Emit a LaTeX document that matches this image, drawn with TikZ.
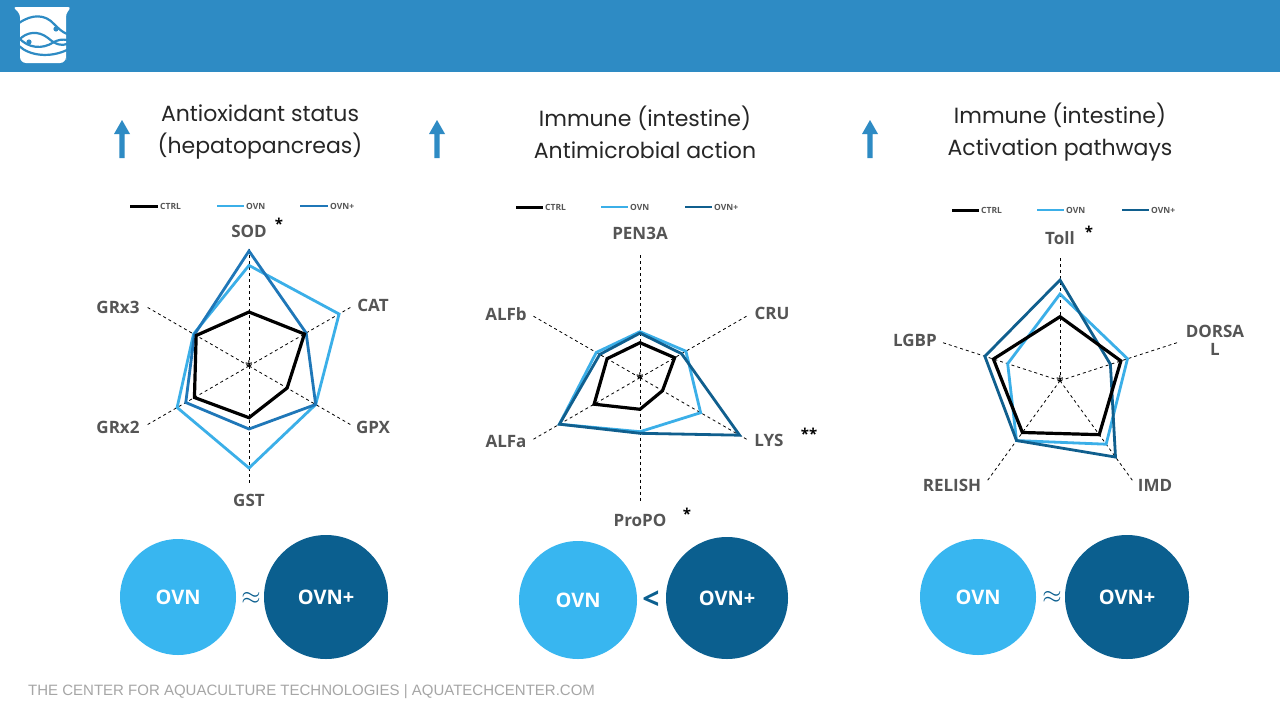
\documentclass[tikz,border=0pt]{standalone}
\usepackage{fontspec}
\setmainfont{Open Sans}
\newfontfamily\titlefont{Poppins}
\newfontfamily\footfont{Liberation Sans}
\definecolor{hdr}{HTML}{2E8BC4}
\definecolor{ovn}{HTML}{3BAFE8}
\definecolor{ovnpA}{HTML}{1F77B8}
\definecolor{ovnpB}{HTML}{105F8E}
\definecolor{circL}{HTML}{38B6F0}
\definecolor{circD}{HTML}{0B5F8F}
\definecolor{lbl}{HTML}{555555}
\tikzset{
  axis/.style={dashed,line width=0.8pt,black},
  ctrl/.style={line width=3.2pt,black,line join=miter},
  ovnl/.style={line width=2.8pt,ovn,line join=miter},
  ovnpa/.style={line width=2.8pt,ovnpA,line join=miter},
  ovnpb/.style={line width=2.8pt,ovnpB,line join=miter},
  lab/.style={font=\bfseries\fontsize{17}{18}\selectfont,text=lbl,inner sep=0pt},
  star/.style={font=\bfseries\fontsize{15}{15}\selectfont,text=black,inner sep=0pt},
  leg/.style={font=\bfseries\fontsize{8.5}{9}\selectfont,text=lbl,anchor=west,inner sep=0pt},
  ttl/.style={font=\titlefont\fontsize{22}{32}\selectfont,text=black!85,align=center,inner sep=0pt},
  ctxt/.style={font=\bfseries\fontsize{20}{20}\selectfont,text=white,inner sep=0pt},
  rel/.style={font=\bfseries\fontsize{30}{30}\selectfont,text=circD,inner sep=0pt},
}
\newcommand{\uparr}[2]{\fill[hdr] (#1-2.6,#2) -- (#1-2.6,#2-24) -- (#1-8,#2-24) -- (#1,#2-38) -- (#1+8,#2-24) -- (#1+2.6,#2-24) -- (#1+2.6,#2) -- cycle;}
\newcommand{\legend}[4]{% y, x ctrl, x ovn, x ovn+ ; #4 colour-style
}
\begin{document}
\begin{tikzpicture}[x=1pt,y=-1pt]
\useasboundingbox (0,0) rectangle (1280,720);
\fill[white] (0,0) rectangle (1280,720);
% header
\fill[hdr] (0,0) rectangle (1280,72);
% logo
\fill[white,rounded corners=3pt] (13,7) -- (71,7) -- (66,14) -- (66,57) [rounded corners=6pt]-- (66,63) -- (20,63) [rounded corners=3pt]-- (20,14) -- cycle;
\draw[hdr,line width=2.2pt] (19,23) .. controls (32,14) and (45,14) .. (54,24) .. controls (58,28) and (62,32) .. (67,34);
\draw[hdr,line width=2.2pt] (19,40) .. controls (26,32) and (38,30) .. (48,38) .. controls (56,45) and (62,46) .. (67,44);
\draw[hdr,line width=2.2pt] (19,38) .. controls (28,48) and (42,50) .. (54,42) .. controls (58,40) and (62,39) .. (67,40);
\draw[hdr,line width=2.2pt] (19,46) .. controls (30,56) and (50,58) .. (67,50);
\fill[hdr] (56,29) circle (2.6) (29,42) circle (2.6);
% titles
\uparr{122}{158}
\node[ttl] (t1) at (260,132) {Antioxidant status\\(hepatopancreas)};
\uparr{437}{158}
\node[ttl] (t2) at (645,132) {Immune (intestine)\\Antimicrobial action};
\uparr{870}{158}
\node[ttl] (t3) at (1060,132) {Immune (intestine)\\Activation pathways};

% ===== chart 1 =====
\draw[ctrl,line width=3pt] (130,206) -- (158,206); \node[leg] (l1a) at (160,206) {CTRL};
\draw[ovnl] (217,206) -- (244,206); \node[leg] (l1b) at (246,206) {OVN};
\draw[ovnpa] (300,206) -- (328,206); \node[leg] (l1c) at (330,206) {OVN+};
\begin{scope}[shift={(249,366)}]
\foreach \a in {-90,-30,30,90,150,210} \draw[axis] (0,0) -- (\a:117);
\draw[ovnl] (-90:100.6) -- (-30:104) -- (30:77) -- (90:102) -- (150:83) -- (210:64) -- cycle;
\draw[ovnpa] (-90:115) -- (-30:66) -- (30:77) -- (90:63) -- (150:73) -- (210:63) -- cycle;
\draw[ctrl] (-90:54) -- (-30:64) -- (30:44) -- (90:51.7) -- (150:63) -- (210:61) -- cycle;
\node[font=\fontsize{14}{14}\selectfont,inner sep=0pt] (c1) at (0,0) {*};
\end{scope}
\node[lab] (sod) at (249,231) {SOD};
\node[star] (sods) at (279,224) {*};
\node[lab] (cat) at (373,305) {CAT};
\node[lab] (gpx) at (373,427) {GPX};
\node[lab] (gst) at (249,500) {GST};
\node[lab] (grx2) at (118,427) {GRx2};
\node[lab] (grx3) at (118,307) {GRx3};

% ===== chart 2 =====
\draw[ctrl,line width=3pt] (516,207) -- (543,207); \node[leg] (l2a) at (545,207) {CTRL};
\draw[ovnl] (601,207) -- (628,207); \node[leg] (l2b) at (630,207) {OVN};
\draw[ovnpb] (685,207) -- (712,207); \node[leg] (l2c) at (714,207) {OVN+};
\begin{scope}[shift={(640,377.7)}]
\foreach \a in {-90,-30,30,90,150,210} \draw[axis] (0,0) -- (\a:124);
\draw[ovnl] (-90:46) -- (-30:53) -- (30:70) -- (90:54) -- (150:93) -- (210:50.5) -- cycle;
\draw[ovnpb] (-90:44.6) -- (-30:48) -- (30:115) -- (90:55.6) -- (150:93) -- (210:46.5) -- cycle;
\draw[ctrl] (-90:35) -- (-30:40) -- (30:26) -- (90:31.6) -- (150:53) -- (210:38) -- cycle;
\node[font=\fontsize{14}{14}\selectfont,inner sep=0pt] (c2) at (0,0) {*};
\end{scope}
\node[lab] (pen) at (640,233) {PEN3A};
\node[lab] (cru) at (772,313) {CRU};
\node[lab] (lys) at (769,440) {LYS};
\node[star] (lyss) at (809,434) {**};
\node[lab] (pro) at (640,520) {ProPO};
\node[star] (pros) at (687,514) {*};
\node[lab] (alfa) at (506,441) {ALFa};
\node[lab] (alfb) at (506,314) {ALFb};

% ===== chart 3 =====
\draw[ctrl,line width=3pt] (952,210) -- (979,210); \node[leg] (l3a) at (981,210) {CTRL};
\draw[ovnl] (1037,210) -- (1064,210); \node[leg] (l3b) at (1066,210) {OVN};
\draw[ovnpb] (1122,210) -- (1149,210); \node[leg] (l3c) at (1151,210) {OVN+};
\begin{scope}[shift={(1060,380.7)}]
\foreach \a in {-90,-18,54,126,198} \draw[axis] (0,0) -- (\a:123);
\draw[ovnl] (-90:86.7) -- (-18:71) -- (54:78.5) -- (126:74) -- (198:55) -- cycle;
\draw[ovnpb] (-90:100.7) -- (-18:53) -- (54:94.4) -- (126:74) -- (198:79) -- cycle;
\draw[ctrl] (-90:64) -- (-18:64) -- (54:66.7) -- (126:64) -- (198:70) -- cycle;
\node[font=\fontsize{14}{14}\selectfont,inner sep=0pt] (c3) at (0,0) {*};
\end{scope}
\node[lab] (toll) at (1060,238) {Toll};
\node[star] (tolls) at (1089,232) {*};
\node[lab,align=center] (dor) at (1215,340) {DORSA\\L};
\node[lab] (imd) at (1155,485) {IMD};
\node[lab] (rel) at (952,485) {RELISH};
\node[lab] (lgbp) at (915,340) {LGBP};

% ===== circles =====
\node[circle,fill=circL,minimum size=116pt,ctxt] (o1) at (178,597) {OVN};
\node[circle,fill=circD,minimum size=124pt,ctxt] (p1) at (326,597) {OVN+};
\node[rel] (r1) at (251,598) {$\approx$};
\node[circle,fill=circL,minimum size=118pt,ctxt] (o2) at (578,600) {OVN};
\node[circle,fill=circD,minimum size=122pt,ctxt] (p2) at (727,598) {OVN+};
\node[rel] (r2) at (651,600) {\textless};
\node[circle,fill=circL,minimum size=116pt,ctxt] (o3) at (978,597) {OVN};
\node[circle,fill=circD,minimum size=124pt,ctxt] (p3) at (1127,597) {OVN+};
\node[rel] (r3) at (1052,597) {$\approx$};

% footer
\node[font=\footfont\fontsize{15}{15}\selectfont,text=black!35,anchor=west,inner sep=0pt] (ft) at (28,692) {THE CENTER FOR AQUACULTURE TECHNOLOGIES | AQUATECHCENTER.COM};
\end{tikzpicture}
\end{document}
